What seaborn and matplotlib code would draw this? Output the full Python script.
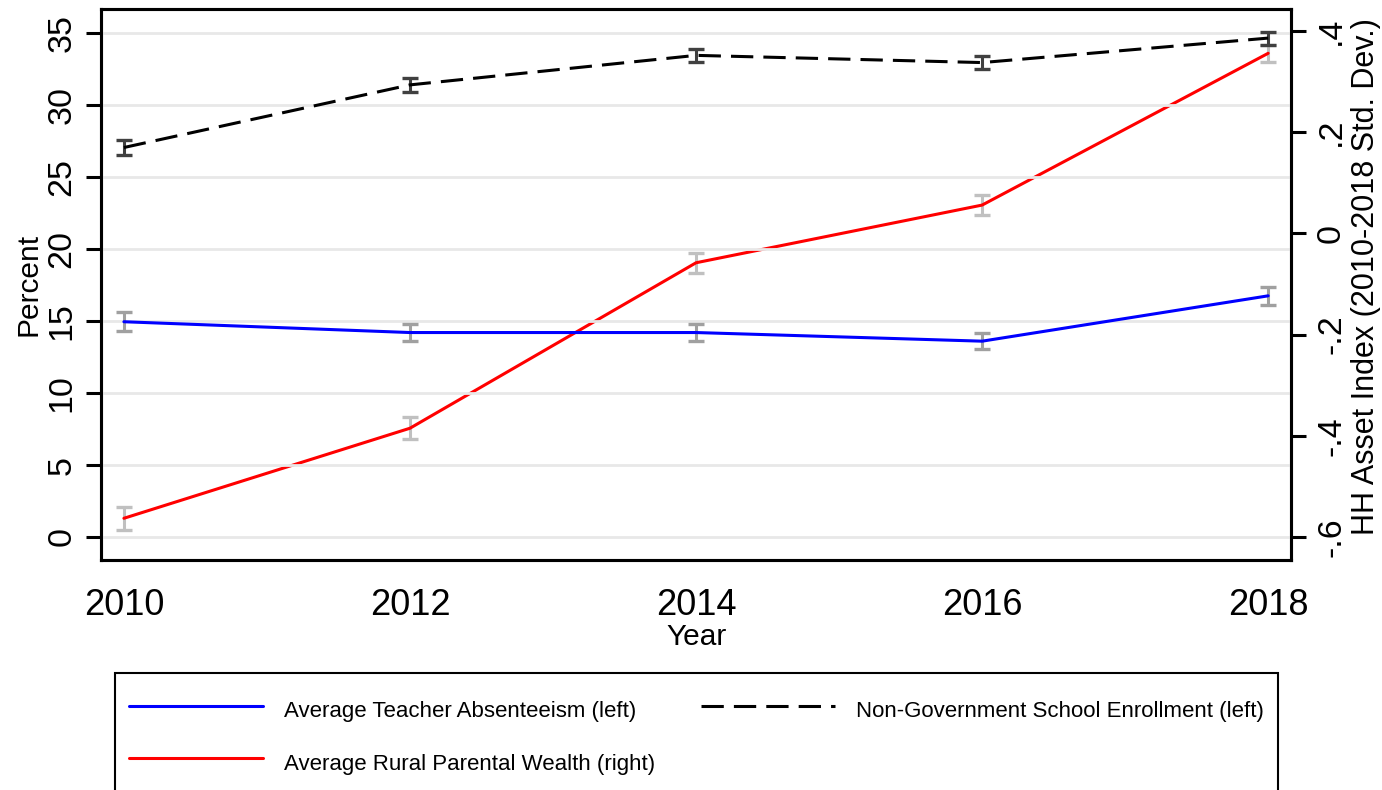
import matplotlib
matplotlib.use("Agg")
import matplotlib.pyplot as plt
from matplotlib.patches import Rectangle
import seaborn as sns
import pandas as pd

# Survey rounds
years = [2010, 2012, 2014, 2016, 2018]

# Average teacher absenteeism, percent (left axis) and 95% CI half-widths
absenteeism = [14.95, 14.2, 14.2, 13.6, 16.75]
absenteeism_ci = [0.65, 0.6, 0.6, 0.55, 0.62]

# Non-government school enrollment, percent (left axis)
enrollment = [27.05, 31.4, 33.45, 32.95, 34.65]
enrollment_ci = [0.5, 0.5, 0.45, 0.45, 0.45]

# Average rural parental wealth, HH asset index in std. dev. (right axis)
wealth = [-0.563, -0.385, -0.058, 0.056, 0.356]
wealth_ci = [0.023, 0.022, 0.02, 0.02, 0.017]

left_ticks = [0, 5, 10, 15, 20, 25, 30, 35]
right_ticks = [-0.6, -0.4, -0.2, 0.0, 0.2, 0.4]
right_ticklabels = ["-.6", "-.4", "-.2", "0", ".2", ".4"]

labels = {
    "absent": "Average Teacher Absenteeism (left)",
    "wealth": "Average Rural Parental Wealth (right)",
    "enroll": "Non-Government School Enrollment (left)",
}

df = pd.DataFrame({
    "year": years,
    "absent": absenteeism, "absent_ci": absenteeism_ci,
    "enroll": enrollment, "enroll_ci": enrollment_ci,
    "wealth": wealth, "wealth_ci": wealth_ci,
})

sns.set_theme(style="white")
plt.rcParams["font.family"] = ["Liberation Sans", "DejaVu Sans"]
plt.rcParams.update({
    "text.color": "black",
    "axes.labelcolor": "black",
    "xtick.color": "black",
    "ytick.color": "black",
})

fig = plt.figure(figsize=(13.82, 7.90), dpi=100)
ax = fig.add_axes([0.0731, 0.2911, 0.8611, 0.6975])
ax2 = ax.twinx()

lw = 2.2
spine_w = 2.2

# Horizontal grid on the left scale
for t in left_ticks:
    ax.axhline(t, color="#e8e8e8", lw=2.0, zorder=0)

# Confidence intervals
eb_kw = dict(fmt="none", capsize=6, elinewidth=2.2, capthick=2.4)
ax.errorbar(df["year"], df["absent"], yerr=df["absent_ci"], ecolor="#a0a0a0", zorder=2, **eb_kw)
ax.errorbar(df["year"], df["enroll"], yerr=df["enroll_ci"], ecolor="#404040", zorder=2, **eb_kw)
ax2.errorbar(df["year"], df["wealth"], yerr=df["wealth_ci"], ecolor="#c0c0c0", zorder=2, **eb_kw)

# Series lines
sns.lineplot(data=df, x="year", y="absent", ax=ax, color="#0000ff", lw=lw,
             label=labels["absent"], zorder=3)
sns.lineplot(data=df, x="year", y="enroll", ax=ax, color="black", lw=lw,
             label=labels["enroll"], zorder=3)
ax.lines[-1].set_dashes((7.3, 3.3))
sns.lineplot(data=df, x="year", y="wealth", ax=ax2, color="#ff0000", lw=lw,
             label=labels["wealth"], zorder=3)

# Axis ranges
ax.set_xlim(2009.84, 2018.16)
ax.set_ylim(-1.6, 36.67)
ax2.set_ylim(-0.6455, 0.4435)

ax.set_xticks(years)
ax.set_xticklabels([str(y) for y in years])
ax.set_yticks(left_ticks)
ax.set_yticklabels([str(t) for t in left_ticks])
ax2.set_yticks(right_ticks)
ax2.set_yticklabels(right_ticklabels)

ax.tick_params(axis="x", labelsize=26, length=11, width=spine_w, pad=9, colors="black")
ax.tick_params(axis="y", labelsize=24.5, length=11, width=spine_w, pad=6,
               labelrotation=90, colors="black", left=True)
ax2.tick_params(axis="y", labelsize=24.5, length=11, width=spine_w, pad=7,
                labelrotation=90, colors="black", right=True)
for lab in ax.get_yticklabels():
    lab.set_va("center")
for lab in ax2.get_yticklabels():
    lab.set_va("center")

ax.set_xlabel("Year", fontsize=21.5, labelpad=0, color="black")
ax.set_ylabel("Percent", fontsize=21.5, labelpad=3, color="black")
ax2.set_ylabel("HH Asset Index (2010-2018 Std. Dev.)", fontsize=22, labelpad=3,
               color="black")
ax2.yaxis.label.set_y(0.514)

for a in (ax, ax2):
    for s in a.spines.values():
        s.set_color("black")
        s.set_linewidth(spine_w)
    a.grid(False)

ax.set_zorder(ax2.get_zorder() + 1)
ax.patch.set_visible(False)

# Shared legend below the plot
h1, l1 = ax.get_legend_handles_labels()
h2, l2 = ax2.get_legend_handles_labels()
ax.get_legend().remove()
ax2.get_legend().remove()
hmap = dict(zip(l1 + l2, h1 + h2))
order = [labels["absent"], labels["wealth"], labels["enroll"]]
leg = fig.legend([hmap[k] for k in order], order, ncol=2, mode="expand",
                 loc="upper left", bbox_to_anchor=(0.0832, 0.0, 0.8415, 0.1395),
                 fontsize=16, handlelength=6.0, handleheight=1.75, handletextpad=0.95,
                 labelspacing=1.0, borderpad=0.65, frameon=False,
                 borderaxespad=0)

# Legend box, running off the bottom edge of the figure
fig.add_artist(Rectangle((115 / 1382, -0.05), (1278 - 115) / 1382, 0.1481 + 0.05,
                         transform=fig.transFigure, fill=False, edgecolor="black",
                         linewidth=1.5, clip_on=False))

fig.savefig("out.png", dpi=100)
